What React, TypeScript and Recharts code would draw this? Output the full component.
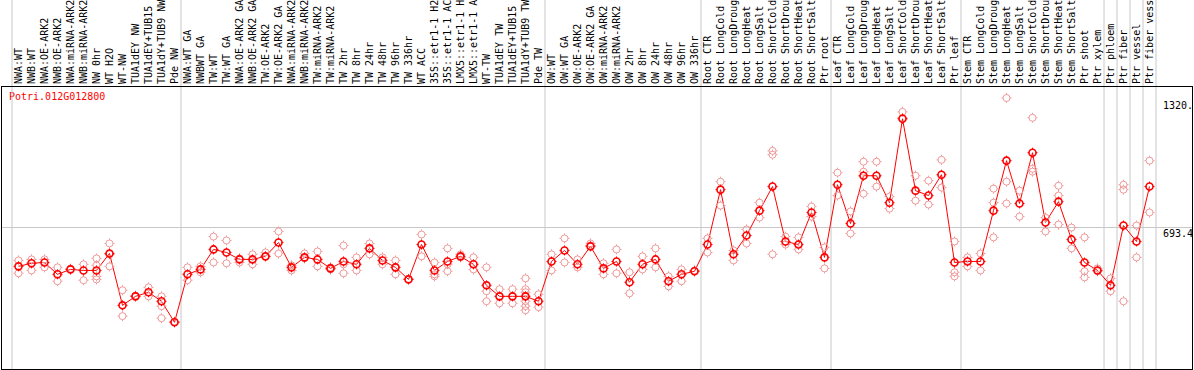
import React from 'react';
import {
    ComposedChart,
    Line,
    Scatter,
    XAxis,
    YAxis,
    ReferenceLine
} from 'recharts';

const GENE_ID = 'Potri.012G012800';

const categories = [
    // NW
    'NWA:WT', 'NWB:WT', 'NWA:OE-ARK2', 'NWB:OE-ARK2', 'NWA:miRNA-ARK2', 'NWB:miRNA-ARK2',
    'NW 0hr', 'WT H2O', 'WT-NW', 'TUA1dEY NW', 'TUA1dEY+TUB15 NW', 'TUA1dY+TUB9 NW', 'Pde NW',
    // TW
    'NWA:WT GA', 'NWBWT GA', 'TW:WT', 'TW:WT GA', 'NWA:OE-ARK2 GA', 'NWB:OE-ARK2 GA',
    'TW:OE-ARK2', 'TW:OE-ARK2 GA', 'NWA:miRNA-ARK2', 'NWB:miRNA-ARK2', 'TW:miRNA-ARK2', 'TW:miRNA-ARK2',
    'TW 2hr', 'TW 8hr', 'TW 24hr', 'TW 48hr', 'TW 96hr', 'TW 336hr', 'WT ACC',
    '35S::etr1-1 H2O', '35S::etr1-1 ACC', 'LMX5::etr1-1 H2O', 'LMX5::etr1-1 ACC',
    'WT-TW', 'TUA1dEY TW', 'TUA1dEY+TUB15 TW', 'TUA1dY+TUB9 TW', 'Pde TW',
    // OW
    'OW:WT', 'OW:WT GA', 'OW:OE-ARK2', 'OW:OE-ARK2 GA', 'OW:miRNA-ARK2', 'OW:miRNA-ARK2',
    'OW 2hr', 'OW 8hr', 'OW 24hr', 'OW 48hr', 'OW 96hr', 'OW 336hr',
    // Root
    'Root CTR', 'Root LongCold', 'Root LongDrought', 'Root LongHeat', 'Root LongSalt',
    'Root ShortCold', 'Root ShortDrought', 'Root ShortHeat', 'Root ShortSalt', 'Ptr root',
    // Leaf
    'Leaf CTR', 'Leaf LongCold', 'Leaf LongDrought', 'Leaf LongHeat', 'Leaf LongSalt',
    'Leaf ShortCold', 'Leaf ShortDrought', 'Leaf ShortHeat', 'Leaf ShortSalt', 'Ptr leaf',
    // Stem
    'Stem CTR', 'Stem LongCold', 'Stem LongDrought', 'Stem LongHeat', 'Stem LongSalt',
    'Stem ShortCold', 'Stem ShortDrought', 'Stem ShortHeat', 'Stem ShortSalt', 'Ptr shoot', 'Ptr xylem',
    // cell types
    'Ptr phloem', 'Ptr fiber', 'Ptr vessel', 'Ptr fiber vessel'
];

// index where each group starts (plus the end)
const groupBoundaries = [0, 13, 41, 53, 63, 73, 84, 85, 86, 87, 88];

const meanValues = [
    503, 518, 522, 464, 488, 483, 483, 566, 312, 356, 376, 332, 229,
    464, 488, 586, 571, 537, 537, 552, 620, 498, 547, 537, 493, 527, 513, 591, 532, 498, 439,
    610, 483, 527, 552, 513, 410, 356, 356, 356, 332,
    527, 581, 513, 601, 493, 527, 425, 513, 537, 430, 464, 479,
    610, 879, 562, 654, 776, 894, 625, 610, 767, 547,
    903, 713, 947, 947, 815, 1226, 874, 850, 952, 522,
    527, 527, 776, 1021, 811, 1060, 718, 820, 635, 522, 483,
    410, 703, 625, 894
];

const replicateValues = [
    [532, 469], [537, 483], [537, 498], [498, 430], [488, 492], [513, 435], [542, 508, 454, 439],
    [615, 503, 562], [386, 259], [356, 360], [400, 356], [356, 308, 249], [229, 232],
    [498, 435], [503, 474], [649, 522], [630, 518], [522, 542], [562, 513], [571, 552], [674, 566],
    [508, 483], [566, 542], [576, 503], [498, 488], [605, 469, 513], [547, 483], [615, 562],
    [547, 513], [532, 464], [439, 442], [659, 552], [522, 454, 464], [591, 479, 513], [562, 547],
    [547, 488], [498, 381, 332], [391, 322], [391, 322], [444, 391, 376, 332, 308, 288], [366, 303],
    [562, 483], [640, 522], [537, 498], [615, 605], [518, 464], [586, 469], [474, 371], [552, 488],
    [591, 498], [454, 405], [488, 430], [479, 483],
    [640, 571], [918, 801], [581, 532], [684, 615], [815, 742], [1069, 1050, 562], [649, 610],
    [645, 586], [796, 747], [596, 493],
    [962, 850], [772, 664], [1016, 859, 967], [1016, 894], [845, 786], [1260, 1231], [947, 825],
    [923, 806], [1025, 889], [625, 474, 454],
    [547, 503], [566, 483], [884, 815, 645], [1328, 918, 811], [874, 747], [1231, 981, 967],
    [742, 674], [898, 850, 708], [693, 591], [645, 479, 449], [493, 479],
    [444, 381], [903, 879, 332], [703, 547], [1021, 767]
];

const yTicks = [0, 693.4, 1320];
const yTickLabels = ['0', '693.4', '1320.'];
const Y_MAX = 1386.8;

const W = 1194;
const H = 370;
const FONT = '"DejaVu Sans Mono", monospace';
const RED = '#ff0000';
const PINK = '#f09a9a';
const GRID = '#c8c8c8';

const meanRows = categories.map((name, i) => ({ pos: i + 0.5, name, mean: meanValues[i] }));
const repRows = replicateValues.flatMap((vals, i) => vals.map((v) => ({ pos: i + 0.5, rep: v })));
const xTicks = categories.map((_, i) => i + 0.5);

function Marker({ cx, cy, color, width }: any) {
    if (cx == null || cy == null) return null;
    const r = 3.5;
    return (
        <g>
            <circle cx={cx} cy={cy} r={r} fill="none" stroke={color} strokeWidth={width} />
            <path
                d={`M${cx},${cy - r - 1.5}v1.5M${cx},${cy + r}v1.5M${cx - r - 1.5},${cy}h1.5M${cx + r},${cy}h1.5`}
                stroke={color}
                strokeWidth={1}
            />
        </g>
    );
}

function CategoryTick({ x, payload }: any) {
    const name = categories[Math.floor(payload.value)];
    const bx = x + 3.5;
    const by = 84;
    return (
        <text
            x={bx}
            y={by}
            transform={`rotate(-90, ${bx}, ${by})`}
            fontSize={10}
            fontFamily={FONT}
            fill="#000"
            textAnchor="start"
        >
            {name}
        </text>
    );
}

function ValueTick({ y, payload }: any) {
    const idx = yTicks.indexOf(payload.value);
    const isZero = payload.value === 0;
    return (
        <text
            x={1163}
            y={isZero ? y - 5 : y + 9}
            fontSize={10}
            fontFamily={FONT}
            fill="#000"
            textAnchor="start"
        >
            {yTickLabels[idx]}
        </text>
    );
}

export default function App() {
    return (
        <div style={{ position: 'absolute', left: 0, top: 0, width: W, height: H, background: '#fff' }}>
            <ComposedChart width={W} height={H} margin={{ top: 0, right: 0, bottom: 1, left: 12 }}>
                <XAxis
                    xAxisId={0}
                    type="number"
                    dataKey="pos"
                    orientation="top"
                    domain={[0, categories.length]}
                    ticks={xTicks}
                    interval={0}
                    height={86}
                    axisLine={false}
                    tickLine={false}
                    tick={<CategoryTick />}
                    allowDataOverflow
                />
                <YAxis
                    yAxisId={0}
                    orientation="right"
                    domain={[0, Y_MAX]}
                    ticks={yTicks}
                    width={38}
                    axisLine={false}
                    tickLine={false}
                    tick={<ValueTick />}
                    allowDataOverflow
                />
                <ReferenceLine
                    y={693.4}
                    stroke={GRID}
                    shape={(p: any) => <line x1={1} x2={1192} y1={p.y1} y2={p.y1} stroke={GRID} strokeWidth={1} />}
                />
                {groupBoundaries.map((b) => (
                    <ReferenceLine
                        key={b}
                        x={b}
                        stroke={GRID}
                        shape={(p: any) => <line x1={p.x1} x2={p.x1} y1={0} y2={369} stroke={GRID} strokeWidth={1} />}
                    />
                ))}
                <Scatter
                    data={repRows}
                    dataKey="rep"
                    isAnimationActive={false}
                    shape={(p: any) => <Marker cx={p.cx} cy={p.cy} color={PINK} width={1} />}
                />
                <Line
                    data={meanRows}
                    dataKey="mean"
                    type="linear"
                    stroke={RED}
                    strokeWidth={1}
                    isAnimationActive={false}
                    dot={(p: any) => <Marker key={`m${p.index}`} cx={p.cx} cy={p.cy} color={RED} width={1.6} />}
                    activeDot={false}
                />
                <text x={9} y={100} fontSize={10} fontFamily={FONT} fill={RED}>{GENE_ID}</text>
            </ComposedChart>
            <div
                style={{
                    position: 'absolute',
                    left: 1,
                    top: 86,
                    width: 1192,
                    height: 284,
                    boxSizing: 'border-box',
                    border: '1px solid #000',
                    pointerEvents: 'none'
                }}
            />
        </div>
    );
}
